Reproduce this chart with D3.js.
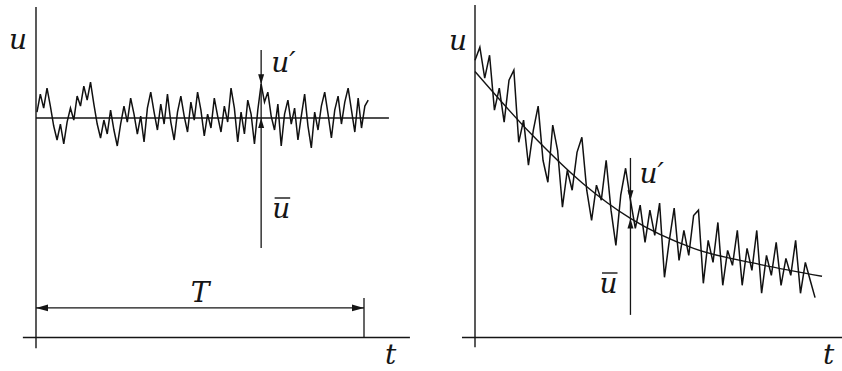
<!DOCTYPE html>
<html>
<head>
<meta charset="utf-8">
<script src="https://cdn.jsdelivr.net/npm/d3@7"></script>
<style>
  html, body { margin: 0; padding: 0; background: #fff; }
  svg { display: block; }
</style>
</head>
<body>
<svg id="chart" width="842" height="371"></svg>
<script>
// ---- data -------------------------------------------------------------
// Left panel: stationary signal, mean value and fluctuations u' about it
const meanLeft = 66;
const noiseLeft = [
  1.8, 7.2, 3.0, 9.0, 3.6, -2.4, -6.6, -1.8, -7.8, -1.2,
  3.0, -0.6, 6.6, 3.6, 9.6, 5.4, 10.8, 4.2, -1.8, -6.0,
  -0.6, -4.8, 2.4, -3.6, -8.4, -1.8, 3.6, -1.2, 6.0, 1.2,
  -4.8, 0.6, -7.2, 3.0, 7.8, 1.8, -3.6, 4.2, -1.8, 7.2,
  -1.2, -6.6, 1.8, 6.6, 0.6, -4.2, 4.8, -0.6, 7.8, 2.4,
  -5.4, 1.2, -3.0, 6.0, 0.6, -4.2, 3.6, -1.2, 9.0, 3.0,
  -7.2, 1.8, -4.8, 5.4, 1.2, -7.8, 2.4, 10.2, 4.8, 7.8,
  0.6, -3.6, 4.2, -8.4, 1.2, 5.4, -1.8, 3.0, -6.6, 0.6,
  7.2, -2.4, -9.0, 1.8, -3.6, 3.6, 7.8, 1.2, -6.0, 2.4,
  6.6, -1.8, 4.8, 9.0, 2.4, -4.2, 6.0, -3.0, 3.6, 5.4
];
const leftStart = 0.3, leftStep = 1.02;      // sampling of the left signal in t
const periodT = 100;                          // averaging period T
const arrowIndexLeft = 67;                    // sample marked with u'

// Right panel: decaying signal, its smooth mean and the raw samples
const meanRightT = [0, 16, 31, 44.8, 63, 82, 100];
const meanRightU = [80, 61.4, 46.4, 35.8, 26.8, 22, 18.4];
const signalRight = [
  83.4, 87.3, 78.0, 84.9, 68.4, 75.0, 64.8, 77.4, 80.4, 58.7,
  65.4, 51.8, 62.3, 69.6, 53.3, 46.7, 63.9, 56.3, 39.2, 50.3,
  44.3, 55.7, 60.2, 44.3, 35.2, 45.8, 41.3, 53.3, 38.3, 27.7,
  42.8, 50.9, 41.3, 32.8, 39.8, 28.6, 38.3, 30.7, 40.4, 18.1,
  29.2, 38.9, 23.2, 32.2, 24.7, 36.7, 38.3, 16.3, 29.2, 22.6,
  34.6, 15.7, 26.2, 21.7, 32.2, 15.7, 26.8, 20.2, 32.2, 13.3,
  24.7, 18.7, 28.6, 15.7, 23.8, 18.7, 29.2, 13.3, 22.6, 17.2, 12.0
];
const rightStep = 1.4;
const arrowIndexRight = 32;                   // sample marked with u'
const arrowMeanIndexRight = 3;                // mean point under the arrow

// ---- drawing ------------------------------------------------------------
const svg = d3.select("#chart");
const ink = "#151515";
const serif = "'DejaVu Serif', 'Liberation Serif', serif";

const yU = d3.scaleLinear().domain([0, 100]).range([337.5, 5]);
const xL = d3.scaleLinear().domain([0, 100]).range([36, 364]);
const xR = d3.scaleLinear().domain([0, 100]).range([475, 822]);

function label(g, x, y, s) {
  return g.append("text").attr("x", x).attr("y", y)
    .attr("font-family", serif).attr("font-style", "italic")
    .attr("font-size", 28).attr("fill", ink).text(s);
}

function arrowHead(g, x, y, dir, len, half) {
  // dir: "down" | "up" | "left" | "right"; (x, y) is the tip
  let pts;
  if (dir === "down") pts = [[x, y], [x - half, y - len], [x + half, y - len]];
  if (dir === "up") pts = [[x, y], [x - half, y + len], [x + half, y + len]];
  if (dir === "left") pts = [[x, y], [x + len, y - half], [x + len, y + half]];
  if (dir === "right") pts = [[x, y], [x - len, y - half], [x - len, y + half]];
  g.append("path").attr("d", "M" + pts.map(p => p.join(",")).join("L") + "Z")
    .attr("fill", ink);
}

function seg(g, x1, y1, x2, y2, w) {
  g.append("line").attr("x1", x1).attr("y1", y1).attr("x2", x2).attr("y2", y2)
    .attr("stroke", ink).attr("stroke-width", w || 1.2);
}

function overbarLabel(g, x, y) {
  const t = label(g, x, y, "u");
  const b = t.node().getBBox();
  g.append("line")
    .attr("x1", b.x + 2.5).attr("x2", b.x + b.width)
    .attr("y1", y - 20).attr("y2", y - 20)
    .attr("stroke", ink).attr("stroke-width", 1.4);
}

// ---- left panel ----
const gL = svg.append("g");
seg(gL, xL(0), yU(99.4), xL(0), yU(-3.2), 1.4);            // u axis
seg(gL, xL(-4), yU(0), xL(114), yU(0), 1.3);               // t axis
seg(gL, xL(0), yU(meanLeft), xL(107.6), yU(meanLeft), 1.4); // mean line

const lineL = d3.line()
  .x((d, i) => xL(leftStart + leftStep * i))
  .y(d => yU(meanLeft + d));
gL.append("path").datum(noiseLeft).attr("d", lineL)
  .attr("fill", "none").attr("stroke", "#111").attr("stroke-width", 1.5);

// u' and ū markers
const tArrL = leftStart + leftStep * arrowIndexLeft;
const peakL = meanLeft + noiseLeft[arrowIndexLeft];
seg(gL, xL(tArrL), yU(86.5), xL(tArrL), yU(26.9), 1.3);
arrowHead(gL, xL(tArrL), yU(peakL), "down", 10, 3);
arrowHead(gL, xL(tArrL), yU(meanLeft), "up", 10, 3);
label(gL, xL(tArrL) + 10, 72, "u′");
overbarLabel(gL, xL(tArrL) + 11, 218);

// averaging period T
seg(gL, xL(0), yU(8.9), xL(periodT), yU(8.9), 1.3);
arrowHead(gL, xL(0), yU(8.9), "left", 12, 3.3);
arrowHead(gL, xL(periodT), yU(8.9), "right", 12, 3.3);
seg(gL, xL(periodT), yU(11.9), xL(periodT), yU(0), 1.3);
label(gL, xL(periodT / 2), 302, "T").attr("text-anchor", "middle");

label(gL, 9, 49, "u");
label(gL, 385, 364, "t");

// ---- right panel ----
const gR = svg.append("g");
seg(gR, xR(0), yU(100), xR(0), yU(-2.9), 1.4);
seg(gR, xR(-3.75), yU(0), xR(105.8), yU(0), 1.3);

const meanPts = meanRightT.map((t, i) => [t, meanRightU[i]]);
gR.append("path").datum(meanPts)
  .attr("d", d3.line().x(d => xR(d[0])).y(d => yU(d[1])).curve(d3.curveMonotoneX))
  .attr("fill", "none").attr("stroke", ink).attr("stroke-width", 1.4);

const lineR = d3.line()
  .x((d, i) => xR(rightStep * i))
  .y(d => yU(d));
gR.append("path").datum(signalRight).attr("d", lineR)
  .attr("fill", "none").attr("stroke", "#111").attr("stroke-width", 1.5);

const tArrR = rightStep * arrowIndexRight;
seg(gR, xR(tArrR), yU(54), xR(tArrR), yU(6.8), 1.3);
arrowHead(gR, xR(tArrR), yU(signalRight[arrowIndexRight]), "down", 10, 3);
arrowHead(gR, xR(tArrR), yU(meanRightU[arrowMeanIndexRight]), "up", 10, 3);
label(gR, xR(tArrR) + 9, 183, "u′");
overbarLabel(gR, xR(tArrR) - 31, 293);

label(gR, 449, 50, "u");
label(gR, 823, 364, "t");
</script>
</body>
</html>
